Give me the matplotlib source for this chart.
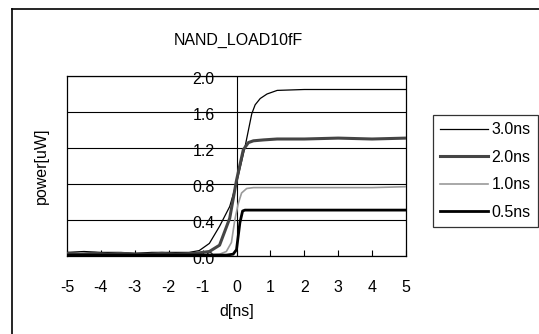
import matplotlib
matplotlib.use("Agg")
import matplotlib.pyplot as plt
from matplotlib.lines import Line2D
from matplotlib.transforms import offset_copy

plt.rcParams['font.family'] = ['Liberation Sans', 'DejaVu Sans']
FS = 11.5
plt.rcParams['font.size'] = FS

title = "NAND_LOAD10fF"
xlabel = "d[ns]"
ylabel = "power[uW]"

x_ticks = [-5, -4, -3, -2, -1, 0, 1, 2, 3, 4, 5]
y_ticks = [0.0, 0.4, 0.8, 1.2, 1.6, 2.0]

# 3.0ns
x_30 = [-5, -4.5, -4, -3.5, -3, -2.5, -2, -1.4, -1.1, -0.8, -0.5, -0.2, 0, 0.25, 0.45, 0.55, 0.7, 0.9, 1.2, 2, 3, 4, 5]
y_30 = [0.04, 0.05, 0.04, 0.04, 0.03, 0.04, 0.04, 0.04, 0.06, 0.14, 0.33, 0.55, 0.81, 1.21, 1.58, 1.68, 1.75, 1.80, 1.84, 1.85, 1.85, 1.85, 1.85]
# 2.0ns
x_20 = [-5, -4.6, -4.2, -3.8, -3.4, -3, -2.6, -2.2, -1.8, -1.2, -0.8, -0.5, -0.2, 0, 0.2, 0.35, 0.5, 0.8, 1.2, 2, 3, 4, 5]
y_20 = [0.03, 0.02, 0.03, 0.02, 0.03, 0.02, 0.02, 0.03, 0.02, 0.03, 0.05, 0.12, 0.42, 0.84, 1.18, 1.26, 1.28, 1.29, 1.30, 1.30, 1.31, 1.30, 1.31]
# 1.0ns
x_10 = [-5, -3, -1, -0.5, -0.3, -0.15, -0.05, 0.05, 0.15, 0.3, 0.5, 1, 2, 3, 4, 5]
y_10 = [0.01, 0.01, 0.01, 0.02, 0.05, 0.15, 0.40, 0.58, 0.70, 0.75, 0.76, 0.76, 0.76, 0.76, 0.76, 0.77]
# 0.5ns
x_05 = [-5, -1, -0.3, -0.1, 0, 0.1, 0.18, 0.25, 0.5, 1, 5]
y_05 = [0.01, 0.01, 0.01, 0.02, 0.07, 0.37, 0.50, 0.51, 0.51, 0.51, 0.51]

W, H = 539, 334
fig = plt.figure(figsize=(W / 100, H / 100), dpi=100)
ax = fig.add_axes([67 / W, 78 / H, 339 / W, 180 / H])

ax.set_xlim(-5, 5)
ax.set_ylim(0, 2.0)

ax.set_yticks(y_ticks)
ax.yaxis.grid(True, color='black', linewidth=0.8)
ax.set_axisbelow(True)
ax.tick_params(axis='y', length=0, labelleft=False)
ax.set_xticks(x_ticks)
ax.set_xticklabels([str(v) for v in x_ticks])
ax.tick_params(axis='x', direction='in', length=4, pad=17, labelsize=FS, width=0.8)
for s in ax.spines.values():
    s.set_linewidth(0.9)
    s.set_color('black')

ax.axvline(0, color='black', linewidth=0.8, zorder=1.5)

tr = offset_copy(ax.transData, fig=fig, x=-22, y=-3, units='dots')
for v in y_ticks:
    ax.text(0, v, f"{v:.1f}", transform=tr, ha='right', va='center', fontsize=FS, clip_on=False)

ax.plot(x_30, y_30, color='black', linewidth=0.9, label='3.0ns', zorder=3)
ax.plot(x_20, y_20, color='#454545', linewidth=2.2, label='2.0ns', zorder=3)
ax.plot(x_10, y_10, color='#9a9a9a', linewidth=1.2, label='1.0ns', zorder=3)
ax.plot(x_05, y_05, color='black', linewidth=2.0, label='0.5ns', zorder=3)

ax.set_xlabel(xlabel, fontsize=FS, labelpad=7)
ax.set_ylabel(ylabel, fontsize=FS, labelpad=13)
fig.text(238 / W, 1 - 40 / H, title, ha='center', va='center', fontsize=FS)

leg = fig.legend(loc='upper left', bbox_to_anchor=(433 / W, 1 - 115 / H), frameon=True,
                 fancybox=False, edgecolor='black', borderaxespad=0, handlelength=3.0,
                 handletextpad=0.2, labelspacing=0.78, borderpad=0.45, fontsize=FS)
leg.get_frame().set_linewidth(0.9)

# chart border (top and left visible)
fig.add_artist(Line2D([12 / W, 1.01], [1 - 9 / H, 1 - 9 / H], transform=fig.transFigure, color='black', linewidth=1.2))
fig.add_artist(Line2D([12 / W, 12 / W], [-0.01, 1 - 9 / H], transform=fig.transFigure, color='black', linewidth=1.2))

fig.savefig("out.png", dpi=100)
